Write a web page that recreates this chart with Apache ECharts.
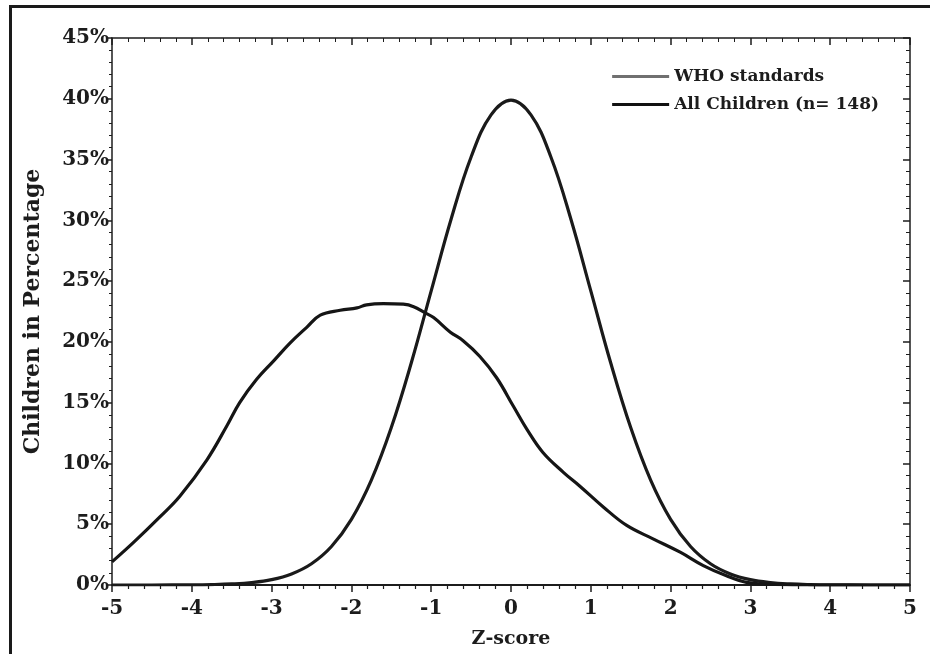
<!DOCTYPE html>
<html>
<head>
<meta charset="utf-8">
<script src="https://cdn.jsdelivr.net/npm/echarts@6/dist/echarts.min.js"></script>
<style>
  html, body { margin: 0; padding: 0; background: #fff; }
  #chart { width: 930px; height: 654px; }
</style>
</head>
<body>
<div id="chart"></div>
<script>
// z-score positions and percentages
const whoZ = [-5, -4.5, -4, -3.75, -3.5, -3.25, -3, -2.75, -2.5, -2.25, -2, -1.75, -1.5, -1.25, -1, -0.75, -0.5, -0.25, 0,
  0.25, 0.5, 0.75, 1, 1.25, 1.5, 1.75, 2, 2.25, 2.5, 2.75, 3, 3.25, 3.5, 3.75, 4, 4.5, 5];
const whoPct = [0, 0.002, 0.013, 0.035, 0.087, 0.2, 0.44, 0.91, 1.75, 3.17, 5.4, 8.63, 12.95, 18.26, 24.2, 30.11, 35.21, 38.67, 39.89,
  38.67, 35.21, 30.11, 24.2, 18.26, 12.95, 8.63, 5.4, 3.17, 1.75, 0.91, 0.44, 0.2, 0.087, 0.035, 0.013, 0.002, 0];

const kidsZ = [-5, -4.73, -4.4, -4.15, -3.81, -3.56, -3.4, -3.19, -2.98, -2.77, -2.56, -2.39, -2.14, -1.93, -1.81, -1.6, -1.35, -1.22,
  -1.08, -0.97, -0.76, -0.6, -0.39, -0.18, 0.03, 0.2, 0.4, 0.66, 0.86, 1.16, 1.45, 1.78, 2.12, 2.41, 2.7, 2.95, 3.25, 3.6, 4, 4.5, 5];
const kidsPct = [1.9, 3.5, 5.6, 7.3, 10.3, 13.1, 15.0, 16.9, 18.4, 19.9, 21.2, 22.2, 22.6, 22.8, 23.05, 23.15, 23.1, 22.9,
  22.4, 22.0, 20.8, 20.1, 18.8, 17.05, 14.7, 12.8, 10.9, 9.25, 8.15, 6.4, 4.9, 3.8, 2.7, 1.6, 0.76, 0.22, 0.06, 0.01, 0, 0, 0];

const seriesNames = ["WHO standards", "All Children (n= 148)"];

function pairs(xs, ys) {
  return xs.map((x, i) => [x, ys[i]]);
}

const font = "'DejaVu Serif', serif";
const ink = "#1c1c1c";

const chart = echarts.init(document.getElementById("chart"));

const option = {
  backgroundColor: "#fff",
  animation: false,
  grid: { left: 112, right: 20, top: 38, bottom: 68 },
  legend: {
    right: 46,
    top: 63,
    orient: "vertical",
    itemGap: 11,
    itemWidth: 57,
    itemHeight: 16,
    textStyle: { fontFamily: font, fontWeight: "bold", fontSize: 17, color: ink },
    data: [
      { name: seriesNames[0], icon: "path://M0,6.5 L57,6.5 L57,9.5 L0,9.5 Z", itemStyle: { color: "#707070" } },
      { name: seriesNames[1], icon: "path://M0,6.5 L57,6.5 L57,9.5 L0,9.5 Z", itemStyle: { color: "#111" } }
    ]
  },
  xAxis: [
    {
      type: "value",
      min: -5,
      max: 5,
      interval: 1,
      name: "Z-score",
      nameLocation: "middle",
      nameGap: 45,
      nameTextStyle: { fontFamily: font, fontWeight: "bold", fontSize: 19, color: ink },
      axisLine: { onZero: false, lineStyle: { color: ink, width: 2 } },
      axisTick: { length: 7, lineStyle: { color: ink, width: 1.5 } },
      minorTick: { show: true, splitNumber: 5, length: 4, lineStyle: { color: ink, width: 1.2 } },
      axisLabel: { fontFamily: font, fontWeight: "bold", fontSize: 20, color: ink, margin: 14 },
      splitLine: { show: false }
    },
    {
      type: "value",
      position: "top",
      min: -5,
      max: 5,
      interval: 1,
      axisLine: { onZero: false, lineStyle: { color: ink, width: 1.5 } },
      axisTick: { inside: true, length: 7, lineStyle: { color: ink, width: 1.5 } },
      minorTick: { show: true, splitNumber: 5, length: 4, lineStyle: { color: ink } },
      axisLabel: { show: false },
      splitLine: { show: false }
    }
  ],
  yAxis: [
    {
      type: "value",
      min: 0,
      max: 45,
      interval: 5,
      name: "Children in Percentage",
      nameLocation: "middle",
      nameGap: 68,
      nameTextStyle: { fontFamily: font, fontWeight: "bold", fontSize: 22, color: ink },
      axisLine: { show: true, onZero: false, lineStyle: { color: ink, width: 1.5 } },
      axisTick: { show: true, length: 5, lineStyle: { color: ink, width: 1.5 } },
      minorTick: { show: true, splitNumber: 5, length: 3, lineStyle: { color: ink } },
      axisLabel: { formatter: "{value}%", fontFamily: font, fontWeight: "bold", fontSize: 20, color: ink, margin: 3 },
      splitLine: { show: false }
    },
    {
      type: "value",
      position: "right",
      min: 0,
      max: 45,
      interval: 5,
      axisLine: { show: true, onZero: false, lineStyle: { color: ink, width: 1.5 } },
      axisTick: { show: true, inside: true, length: 7, lineStyle: { color: ink, width: 1.5 } },
      minorTick: { show: true, splitNumber: 5, length: 4, lineStyle: { color: ink } },
      axisLabel: { show: false },
      splitLine: { show: false }
    }
  ],
  series: [
    {
      name: seriesNames[0],
      type: "line",
      smooth: 0.4,
      showSymbol: false,
      xAxisIndex: 0,
      yAxisIndex: 0,
      lineStyle: { color: "#1a1a1a", width: 3.2 },
      itemStyle: { color: "#707070" },
      data: pairs(whoZ, whoPct)
    },
    {
      name: seriesNames[1],
      type: "line",
      smooth: 0.4,
      showSymbol: false,
      xAxisIndex: 0,
      yAxisIndex: 0,
      lineStyle: { color: "#151515", width: 3.2 },
      itemStyle: { color: "#111" },
      data: pairs(kidsZ, kidsPct)
    }
  ],
  graphic: [
    { type: "rect", shape: { x: 9, y: 5, width: 921, height: 3 }, style: { fill: "#1a1a1a" } },
    { type: "rect", shape: { x: 9, y: 5, width: 3, height: 649 }, style: { fill: "#1a1a1a" } }
  ]
};

chart.setOption(option);
</script>
</body>
</html>
